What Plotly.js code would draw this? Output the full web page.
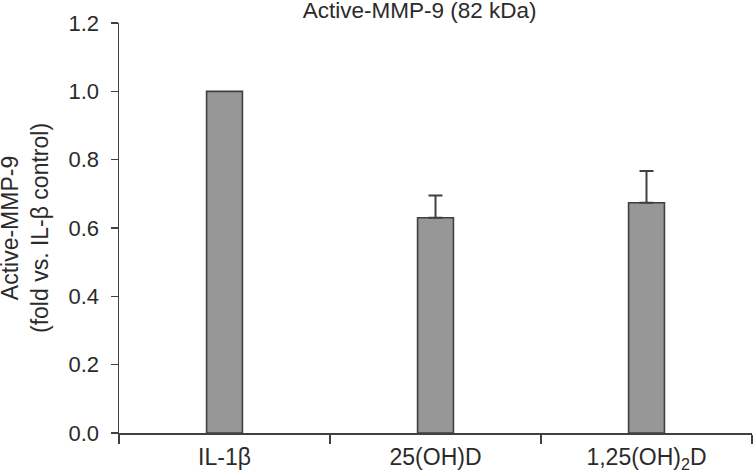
<!DOCTYPE html>
<html>
<head>
<meta charset="utf-8">
<script src="https://cdn.plot.ly/plotly-3.0.1.min.js"></script>
<style>
  body { margin: 0; background: #fff; }
  #chart { width: 753px; height: 476px; }
</style>
</head>
<body>
<div id="chart"></div>
<script>
// data
var groups = ['IL-1β', '25(OH)D', '1,25(OH)<sub>2</sub>D'];
var foldValues = [1.0, 0.63, 0.674];
var errUp = [0, 0.065, 0.093];   // control has no error bar
var yTicks = [0, 0.2, 0.4, 0.6, 0.8, 1.0, 1.2];

var dark = '#404040';
var txt = '#2b2b2b';

var bars = {
  type: 'bar',
  x: groups,
  y: foldValues,
  width: 0.17,
  marker: { color: '#979797', line: { color: dark, width: 1.6 } },
  hoverinfo: 'none'
};

// error bars only where there is an error (skip the control)
var withErr = errUp.map(function (e, i) { return e > 0 ? i : -1; }).filter(function (i) { return i >= 0; });
var errs = {
  type: 'scatter',
  mode: 'markers',
  x: withErr.map(function (i) { return groups[i]; }),
  y: withErr.map(function (i) { return foldValues[i]; }),
  marker: { size: 1, opacity: 0 },
  error_y: {
    type: 'data',
    array: withErr.map(function (i) { return errUp[i]; }),
    arrayminus: withErr.map(function () { return 0; }),
    symmetric: false,
    color: dark,
    thickness: 2,
    width: 7
  },
  hoverinfo: 'none'
};

var layout = {
  width: 753,
  height: 476,
  margin: { l: 119, r: 1, t: 23, b: 43 },
  paper_bgcolor: '#fff',
  plot_bgcolor: '#fff',
  font: { family: 'Liberation Sans, Arial, sans-serif', color: txt, size: 22 },
  showlegend: false,
  title: {
    text: 'Active-MMP-9 (82 kDa)',
    font: { size: 22.5, color: txt },
    x: 0.475,
    xanchor: 'center',
    xref: 'paper',
    y: 1 - 10 / 476,
    yref: 'container',
    yanchor: 'middle'
  },
  xaxis: {
    type: 'category',
    showline: true,
    linecolor: dark,
    linewidth: 1.5,
    ticks: 'outside',
    tickson: 'boundaries',
    ticklen: 9,
    tickwidth: 1.5,
    tickcolor: dark,
    showgrid: false,
    zeroline: false,
    tickfont: { size: 23, color: txt },
    ticklabelstandoff: 3,
    range: [-0.5, 2.5]
  },
  yaxis: {
    range: [0, 1.2],
    tickvals: yTicks,
    ticktext: yTicks.map(function (v) { return v.toFixed(1); }),
    showline: true,
    linecolor: dark,
    linewidth: 1.5,
    ticks: 'outside',
    ticklen: 7,
    tickwidth: 1.5,
    tickcolor: dark,
    showgrid: false,
    zeroline: false,
    tickfont: { size: 22, color: txt },
    ticklabelstandoff: 7
  },
  annotations: [{
    text: 'Active-MMP-9<br>(fold vs. IL-β control)',
    textangle: -90,
    xref: 'paper',
    yref: 'paper',
    x: (25 - 119) / 633,
    y: 0.5,
    xanchor: 'center',
    yanchor: 'middle',
    showarrow: false,
    font: { size: 23, color: txt }
  }]
};

Plotly.newPlot('chart', [bars, errs], layout, { displayModeBar: false, staticPlot: true });
</script>
</body>
</html>
